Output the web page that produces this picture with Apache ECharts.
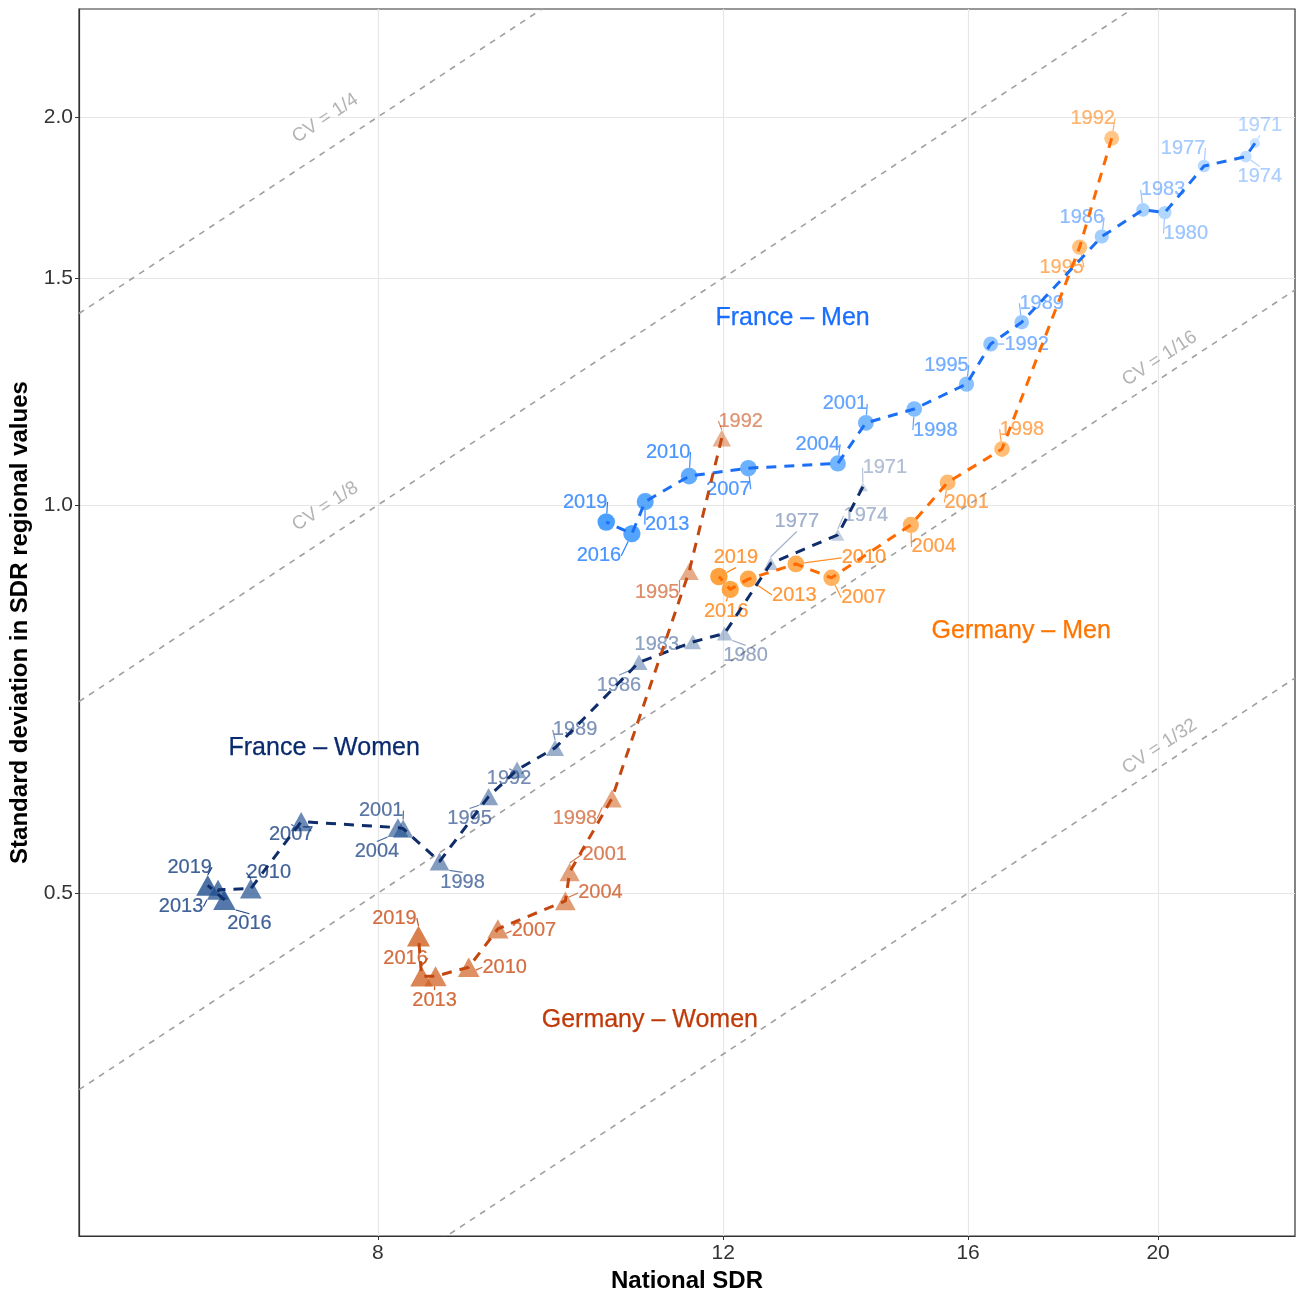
<!DOCTYPE html>
<html>
<head>
<meta charset="utf-8">
<script src="https://cdn.jsdelivr.net/npm/echarts@6/dist/echarts.min.js"></script>
<style>
html,body{margin:0;padding:0;background:#fff;}
#chart{width:1296px;height:1292px;}
</style>
</head>
<body>
<div id="chart"></div>
<script>
// ---------------- DATA ----------------
const yearsFR = [1971,1974,1977,1980,1983,1986,1989,1992,1995,1998,2001,2004,2007,2010,2013,2016,2019];
const yearsDE = [1992,1995,1998,2001,2004,2007,2010,2013,2016,2019];

const frMenX = [22.41,22.17,21.11,20.16,19.65,18.72,17.04,16.43,15.97,15.02,14.19,13.73,12.36,11.53,10.95,10.78,10.46];
const frMenY = [1.908,1.863,1.832,1.686,1.694,1.615,1.386,1.333,1.241,1.187,1.158,1.077,1.068,1.053,1.006,0.950,0.970];

const deMenX = [18.94,18.24,16.65,15.62,14.96,13.63,13.07,12.36,12.10,11.94];
const deMenY = [1.925,1.585,1.105,1.041,0.965,0.878,0.900,0.876,0.860,0.880];

const frWomenX = [14.14,13.73,12.69,12.02,11.58,10.87,9.85,9.42,9.11,8.60,8.24,8.19,7.31,6.89,6.63,6.68,6.55];
const frWomenY = [1.033,0.948,0.901,0.795,0.783,0.755,0.648,0.623,0.594,0.529,0.561,0.562,0.568,0.504,0.503,0.494,0.507];

const deWomenX = [11.98,11.53,10.53,10.02,9.97,9.21,8.90,8.56,8.42,8.39];
const deWomenY = [1.127,0.888,0.592,0.519,0.493,0.469,0.438,0.431,0.431,0.463];

const groupNames = ['France – Men','Germany – Men','France – Women','Germany – Women'];
const groupLabelX = [13.02,17.03,7.51,11.01];
const groupLabelY = [1.397,0.798,0.648,0.3985];

const cvValues = [1/4,1/8,1/16,1/32];
const cvNames = ['CV = 1/4','CV = 1/8','CV = 1/16','CV = 1/32'];
const cvLabelX = [7.52,7.52,20.04,20.04];

const xTicks = [8,12,16,20];
const yTicks = [0.5,1.0,1.5,2.0];

// label offsets (px) for year labels
const frMenOff = [[5,-18],[14,20],[-21,-18],[21,21],[20,-20],[-20,-19],[20,-19],[36,0],[-20,-19],[21,21],[-21,-19],[-20,-19],[-20,21],[-21,-24],[22,23],[-33,22],[-21,-20]];
const deMenOff = [[-19,-20],[-18,20],[20,-20],[19,20],[23,22],[32,20],[68,-6],[46,16],[-4,22],[17,-19]];
const frWomenOff = [[22,-19],[28,-19],[26,-42],[21,22],[-36,3],[-20,23],[20,-18],[-8,9],[-19,22],[23,21],[-22,-18],[-21,24],[-10,13],[18,-16],[-37,17],[25,24],[-18,-18]];
const deWomenOff = [[19,-17],[-32,21],[-37,20],[35,-18],[35,-8],[36,2],[36,0],[-1,24],[-16,-18],[-24,-18]];

// ---------------- STYLE ----------------
const X_MIN = 5.631, X_MAX = 23.49, Y_MIN = 0.271, Y_MAX = 2.425;
const FONT = 'Liberation Sans, Arial, Helvetica, sans-serif';

const groups = [
  {years: yearsFR, x: frMenX, y: frMenY, shape: 'circle', point: '#1E88FF', label: '#1E7CFF', line: '#1A6FF5', text: '#1A6EFF', off: frMenOff},
  {years: yearsDE, x: deMenX, y: deMenY, shape: 'circle', point: '#FF8A0D', label: '#FF7F0A', line: '#FF6A00', text: '#FF7500', off: deMenOff},
  {years: yearsFR, x: frWomenX, y: frWomenY, shape: 'triangle', point: '#1E4E8E', label: '#123B7E', line: '#0F2D6B', text: '#0A2A6E', off: frWomenOff},
  {years: yearsDE, x: deWomenX, y: deWomenY, shape: 'triangle', point: '#D0601F', label: '#C84A12', line: '#C4470F', text: '#BF3A08', off: deWomenOff}
];

function rgba(hex, a) {
  const r = parseInt(hex.slice(1,3),16), g = parseInt(hex.slice(3,5),16), b = parseInt(hex.slice(5,7),16);
  return 'rgba(' + r + ',' + g + ',' + b + ',' + a.toFixed(3) + ')';
}

const series = [];

// CV reference lines
cvValues.forEach(function (cv) {
  series.push({
    type: 'line', silent: true, symbol: 'none', clip: true, z: 1,
    data: [[X_MIN, X_MIN * cv], [X_MAX, X_MAX * cv]],
    lineStyle: {color: '#A0A0A0', width: 1.6, type: [6, 6]}
  });
});
// CV labels
series.push({
  type: 'scatter', silent: true, z: 1, symbolSize: 1,
  itemStyle: {color: 'rgba(0,0,0,0)'},
  data: cvValues.map(function (cv, i) {
    const f = i < 2 ? 1.061 : 1.037;
    return {name: cvNames[i], value: [cvLabelX[i], cvLabelX[i] * cv * f]};
  }),
  label: {show: true, position: 'inside', formatter: '{b}', rotate: 33.3, color: '#A0A0A0', fontSize: 19, fontFamily: FONT, textBorderWidth: 0, textBorderColor: 'transparent'}
});

// points
groups.forEach(function (g, gi) {
  series.push({
    type: 'scatter', silent: true, z: 2,
    symbol: g.shape,
    data: g.years.map(function (yr, i) {
      const t = (yr - 1971) / 48;
      const a = 0.3 + 0.7 * t;
      const la = Math.min(1, 0.4 + 0.75 * t);
      let size;
      if (g.shape === 'circle') { const d = 10 + 7.5 * Math.sqrt(t); size = d; }
      else { const w = 10 + 13 * Math.sqrt(t); size = [w, w * 0.9]; }
      const lc = rgba(g.label, la);
      return {
        name: String(yr),
        value: [g.x[i], g.y[i]],
        symbolSize: size,
        itemStyle: {color: rgba(g.point, a)},
        label: {color: lc, textBorderColor: lc, textBorderWidth: 0.2},
        labelLine: {lineStyle: {color: rgba(g.label, a)}}
      };
    }),
    label: {show: true, position: 'inside', formatter: '{b}', fontSize: 20, fontFamily: FONT},
    labelLine: {show: true, lineStyle: {width: 1.2}},
    labelLayout: function (p) {
      const o = g.off[p.dataIndex];
      return {dx: o[0], dy: o[1]};
    }
  });
});

// dashed paths
groups.forEach(function (g) {
  series.push({
    type: 'line', silent: true, symbol: 'none', z: 3,
    data: g.x.map(function (v, i) { return [v, g.y[i]]; }),
    lineStyle: {color: g.line, width: 3, type: [10, 8]}
  });
});

// group labels
series.push({
  type: 'scatter', silent: true, z: 4, symbolSize: 1,
  itemStyle: {color: 'rgba(0,0,0,0)'},
  data: groupNames.map(function (n, i) {
    return {name: n, value: [groupLabelX[i], groupLabelY[i]], label: {color: groups[i].text, textBorderColor: groups[i].text, textBorderWidth: 0.25}};
  }),
  label: {show: true, position: 'inside', formatter: '{b}', fontSize: 25, fontFamily: FONT, opacity: 1}
});

const chart = echarts.init(document.getElementById('chart'), null, {renderer: 'canvas'});
chart.setOption({
  backgroundColor: '#ffffff',
  animation: false,
  grid: {left: 79, right: 1, top: 9, bottom: 56, show: true, borderColor: '#333333', borderWidth: 1.2, backgroundColor: 'rgba(0,0,0,0)', outerBoundsMode: 'none', containLabel: false},
  xAxis: {
    type: 'log', logBase: 10, min: X_MIN, max: X_MAX,
    name: 'National SDR', nameLocation: 'middle', nameGap: 31,
    nameTextStyle: {fontFamily: FONT, fontWeight: 'bold', fontSize: 24, color: '#000'},
    axisLine: {show: true, onZero: false, lineStyle: {color: '#333333', width: 1.2}},
    axisTick: {show: true, length: 4, customValues: xTicks, lineStyle: {color: '#333333'}},
    axisLabel: {customValues: xTicks, color: '#333333', fontSize: 21, fontFamily: FONT, margin: 7, formatter: function (v) { return String(Math.round(v)); }},
    splitLine: {show: true, lineStyle: {color: '#E6E6E6', width: 1.2}},
    minorTick: {show: false}, minorSplitLine: {show: false}
  },
  yAxis: {
    type: 'log', logBase: 10, min: Y_MIN, max: Y_MAX,
    name: 'Standard deviation in SDR regional values', nameLocation: 'middle', nameGap: 47, nameRotate: 90,
    nameTextStyle: {fontFamily: FONT, fontWeight: 'bold', fontSize: 24, color: '#000'},
    axisLine: {show: true, onZero: false, lineStyle: {color: '#333333', width: 1.2}},
    axisTick: {show: true, length: 4, customValues: yTicks, lineStyle: {color: '#333333'}},
    axisLabel: {customValues: yTicks, color: '#333333', fontSize: 21, fontFamily: FONT, margin: 6, formatter: function (v) { return v.toFixed(1); }},
    splitLine: {show: true, lineStyle: {color: '#E6E6E6', width: 1.2}},
    minorTick: {show: false}, minorSplitLine: {show: false}
  },
  series: series
});
</script>
</body>
</html>
